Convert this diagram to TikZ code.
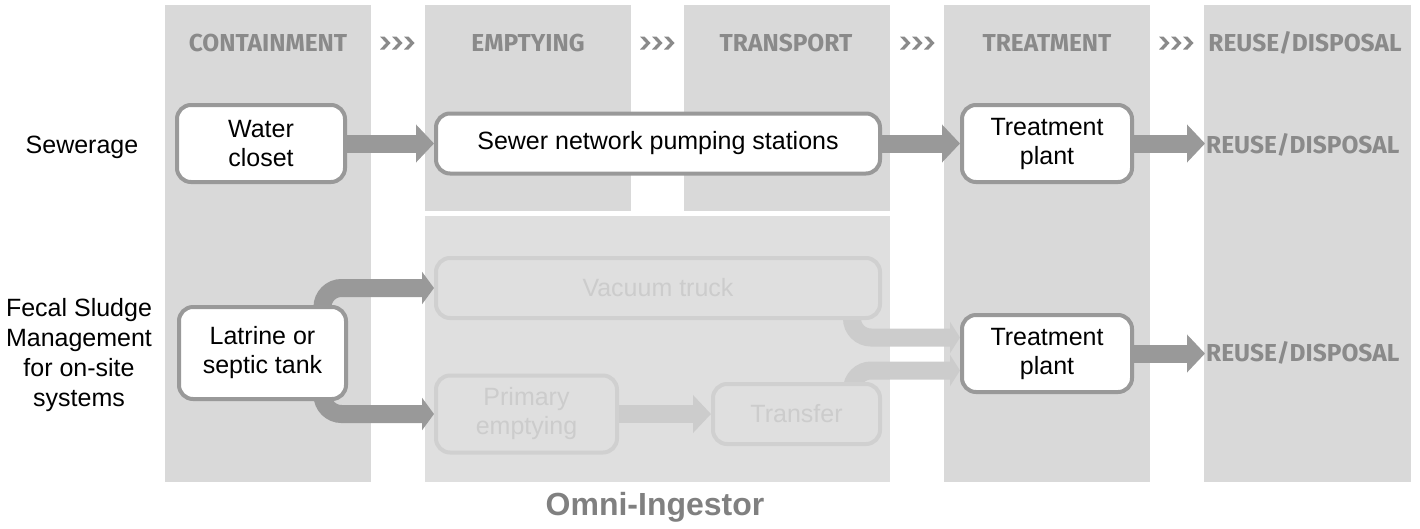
\documentclass[tikz,border=0pt]{standalone}
\usepackage{fontspec}
\setmainfont{Liberation Sans}
\newfontfamily\hdrfont{Fira Sans}
\usetikzlibrary{arrows.meta,calc}
\pgfdeclarelayer{bg}
\pgfdeclarelayer{flows}
\pgfsetlayers{bg,flows,main}

\definecolor{panel}{HTML}{D9D9D9}
\definecolor{panellight}{HTML}{DFDFDF}
\definecolor{edge}{HTML}{999999}
\definecolor{flowgray}{HTML}{999999}
\definecolor{fadeedge}{HTML}{D0D0D0}
\definecolor{fadetext}{HTML}{CCCCCC}
\definecolor{fadeflowgray}{HTML}{CCCCCC}
\definecolor{hdrgray}{HTML}{8A8A8A}
\definecolor{titlegray}{HTML}{808080}

\tikzset{
  box/.style={draw=edge, line width=4pt, fill=white, rounded corners=14pt,
    align=center, inner sep=0pt, font=\fontsize{25}{29}\selectfont},
  fadebox/.style={box, draw=fadeedge, fill=panellight, text=fadetext},
  rowlabel/.style={align=center, inner sep=0pt, font=\fontsize{25}{30}\selectfont},
  hdr/.style={text=hdrgray, inner sep=1pt, font=\hdrfont\bfseries\fontsize{24.5}{26}\selectfont},
  flow/.style={draw=flowgray, line width=18pt, rounded corners=19pt,
    -{Triangle[length=18pt,width=37pt]}},
  thinflow/.style={flow, -{Triangle[length=12pt,width=32pt]}},
  fadeflow/.style={flow, draw=fadeflowgray, -{Triangle[length=10pt,width=31pt]}},
  fadewide/.style={flow, draw=fadeflowgray},
  chevrons/.pic={
    \foreach \i in {0,12,24}{
      \fill[hdrgray] (\i-17,-6.5) -- (\i-12.5,-6.5) -- (\i-6.5,0) -- (\i-12.5,6.5)
        -- (\i-17,6.5) -- (\i-11,0) -- cycle;
    }
  }
}

\begin{document}
\begin{tikzpicture}[x=1pt, y=-1pt]
\useasboundingbox (0,0) rectangle (1420,528);

% stage columns
\begin{pgfonlayer}{bg}
  \fill[panel] (165,5) rectangle (371,482);
  \fill[panel] (425,5) rectangle (631,211);
  \fill[panel] (684,5) rectangle (890,211);
  \fill[panel] (944,5) rectangle (1150,482);
  \fill[panel] (1204,5) rectangle (1411,482);
  \fill[panellight] (425,216) rectangle (890,482);
\end{pgfonlayer}

% stage headings
\node[hdr] (hcont) at (268,43) {CONTAINMENT};
\node[hdr] (hempt) at (528,43) {EMPTYING};
\node[hdr] (htran) at (786,43) {TRANSPORT};
\node[hdr] (htreat) at (1047,43) {TREATMENT};
\node[hdr] (hreuse) at (1305,43) {REUSE/DISPOSAL};
\pic at (397,43) {chevrons};
\pic at (657,43) {chevrons};
\pic at (917,43) {chevrons};
\pic at (1176,43) {chevrons};

% row labels
\node[rowlabel] (sew) at (82,147) {Sewerage};
\node[rowlabel] (fsm) at (79,355) {Fecal Sludge\\Management\\for on-site\\systems};

% sewerage chain
\node[box, minimum width=168pt, minimum height=77pt] (wc) at (261,143.5) {Water\\closet};
\node[box, minimum width=444pt, minimum height=60pt] (sewer) at (658,143.5) {Sewer network pumping stations};
\node[box, minimum width=170pt, minimum height=77pt] (tp1) at (1047,143.5) {Treatment\\plant};
\node[hdr, anchor=west] (reuse1) at (1205,145) {REUSE/DISPOSAL};

% on-site chain
\node[box, minimum width=167pt, minimum height=92pt] (latrine) at (262.5,353) {Latrine or\\septic tank};
\node[fadebox, minimum width=444pt, minimum height=60pt] (vacuum) at (658,288) {Vacuum truck};
\node[fadebox, minimum width=181pt, minimum height=77pt] (primary) at (526.5,414) {Primary\\emptying};
\node[fadebox, minimum width=167pt, minimum height=60pt] (transfer) at (796.5,414) {Transfer};
\node[box, minimum width=170pt, minimum height=77pt] (tp2) at (1047,353.5) {Treatment\\plant};
\node[hdr, anchor=west] (reuse2) at (1205,353) {REUSE/DISPOSAL};

\node[font=\bfseries\fontsize{32}{36}\selectfont, text=titlegray] (omni) at (655,507) {Omni-Ingestor};

% flows
\begin{pgfonlayer}{flows}
  \draw[flow] (wc.east) -- (sewer.west);
  \draw[flow] (sewer.east) -- (sewer.east -| tp1.west);
  \draw[flow] (tp1.east) -- (tp1.east -| reuse1.west);
  \draw[thinflow] ([xshift=60pt]latrine.north) |- (vacuum.west);
  \draw[thinflow] ([xshift=60pt]latrine.south) |- (primary.west);
  \draw[fadewide] (primary.east) -- (primary.east -| transfer.west);
  \draw[fadeflow] ([xshift=-30pt]vacuum.south east) |- ([yshift=16pt]tp2.west);
  \draw[fadeflow] ([xshift=-30pt]transfer.north east) |- ([yshift=-17pt]tp2.west);
  \draw[flow] (tp2.east) -- (tp2.east -| reuse2.west);
\end{pgfonlayer}
\end{tikzpicture}
\end{document}
